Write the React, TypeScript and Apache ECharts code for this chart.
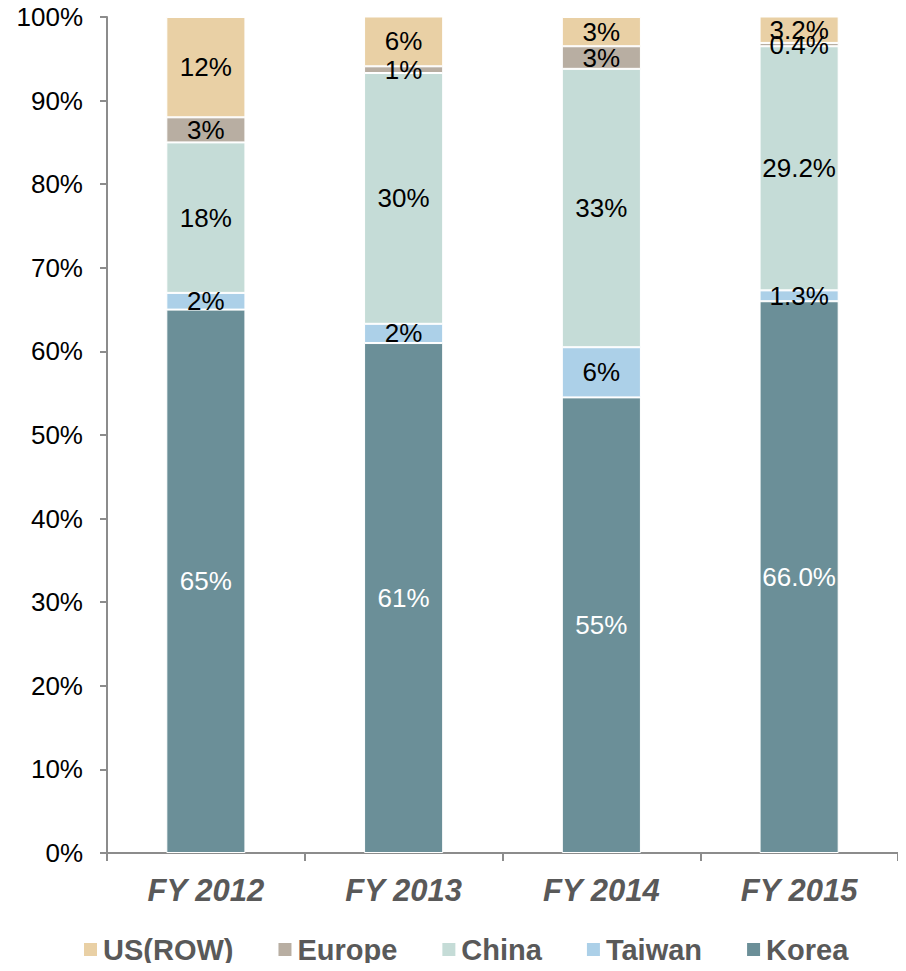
import React, { useEffect, useRef } from "react";
import * as echarts from "echarts";

const categories = ["FY 2012", "FY 2013", "FY 2014", "FY 2015"];
const korea = [65, 61, 54.5, 66.0];
const taiwan = [2, 2.3, 6, 1.3];
const china = [18, 30, 33.3, 29.2];
const europe = [3, 0.8, 2.7, 0.4];
const usRow = [12, 6, 3.5, 3.2];

const koreaLabels = ["65%", "61%", "55%", "66.0%"];
const taiwanLabels = ["2%", "2%", "6%", "1.3%"];
const chinaLabels = ["18%", "30%", "33%", "29.2%"];
const europeLabels = ["3%", "1%", "3%", "0.4%"];
const usLabels = ["12%", "6%", "3%", "3.2%"];

const yTicks = [0, 10, 20, 30, 40, 50, 60, 70, 80, 90, 100];

export default function App() {
  const ref = useRef<HTMLDivElement>(null);
  useEffect(() => {
    const chart = echarts.init(ref.current!, null, { renderer: "svg" });
    const font = "Liberation Sans, Arial, sans-serif";
    const mk = (name: string, data: number[], labels: string[], color: string, labelColor: string) => ({
      name,
      type: "bar",
      stack: "total",
      barWidth: "40%",
      data,
      itemStyle: { color, borderColor: "#ffffff", borderWidth: 1 },
      label: {
        show: true,
        position: "inside",
        formatter: (p: any) => labels[p.dataIndex],
        color: labelColor,
        fontSize: 26,
        fontFamily: font,
      },
    });
    chart.setOption({
      animation: false,
      textStyle: { fontFamily: font },
      grid: { left: 99, right: 0, top: 17, bottom: 118 },
      legend: {
        top: 935,
        left: 74,
        padding: 0,
        itemWidth: 15,
        itemHeight: 15,
        itemGap: 43,
        icon: "rect",
        data: ["US(ROW)", "Europe", "China", "Taiwan", "Korea"],
        textStyle: { fontSize: 29, fontWeight: "bold", color: "#595959", fontFamily: font },
      },
      xAxis: {
        type: "category",
        data: categories,
        axisLine: { lineStyle: { color: "#8c8c8c", width: 2 } },
        axisTick: { show: true, length: 8, lineStyle: { color: "#8c8c8c", width: 2 } },
        axisLabel: {
          fontSize: 31,
          fontWeight: "bold",
          fontStyle: "italic",
          color: "#595959",
          margin: 22,
          fontFamily: font,
        },
      },
      yAxis: {
        type: "value",
        min: 0,
        max: 100,
        interval: 10,
        splitLine: { show: false },
        axisLine: { show: true, lineStyle: { color: "#8c8c8c", width: 2 } },
        axisTick: { show: true, inside: false, length: 7, lineStyle: { color: "#8c8c8c", width: 2 } },
        axisLabel: {
          fontSize: 26,
          color: "#000000",
          margin: 24,
          fontFamily: font,
          formatter: (v: number) => (yTicks.includes(v) ? v + "%" : ""),
        },
      },
      series: [
        mk("Korea", korea, koreaLabels, "#6b8f98", "#ffffff"),
        mk("Taiwan", taiwan, taiwanLabels, "#acd0e8", "#000000"),
        mk("China", china, chinaLabels, "#c5dcd7", "#000000"),
        mk("Europe", europe, europeLabels, "#b8aea2", "#000000"),
        mk("US(ROW)", usRow, usLabels, "#e9d0a5", "#000000"),
      ],
    });
    return () => chart.dispose();
  }, []);
  return <div ref={ref} style={{ width: 890, height: 971, margin: "-8px 0 -8px 0" }} />;
}
